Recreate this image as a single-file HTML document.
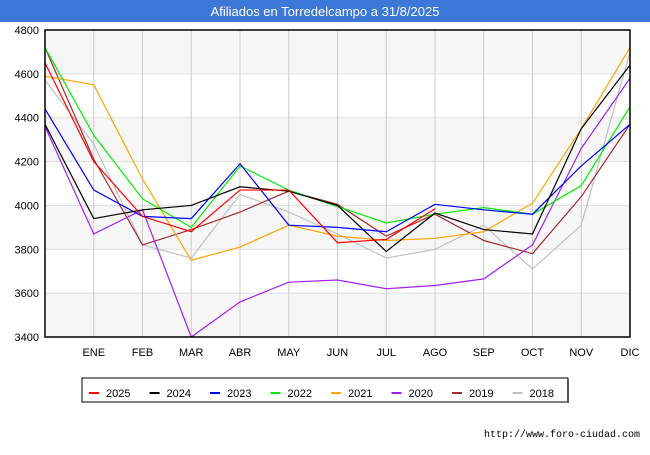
<!DOCTYPE html>
<html><head><meta charset="utf-8"><style>
body{margin:0;width:650px;height:450px;background:#fff;font-family:"Liberation Sans",sans-serif;overflow:hidden}
</style></head><body>
<svg width="650" height="450" xmlns="http://www.w3.org/2000/svg">
<rect x="0" y="0" width="650" height="22" fill="#3c78d8"/>
<text x="325" y="16" text-anchor="middle" font-size="13" fill="#fff" font-family="Liberation Sans, sans-serif">Afiliados en Torredelcampo a 31/8/2025</text>
<g id="grid"></g>
<g id="series"></g>
<rect x="45" y="30" width="585" height="307" fill="none" stroke="#000" stroke-width="1.5"/>
<g id="axes" font-size="11" font-family="Liberation Sans, sans-serif"></g>
<g id="legend"></g>
<text x="640" y="437" text-anchor="end" font-size="10" font-family="Liberation Mono, monospace">http://www.foro-ciudad.com</text>
</svg>
<script>
const months=["","ENE","FEB","MAR","ABR","MAY","JUN","JUL","AGO","SEP","OCT","NOV","DIC"];
const yTicks=[3400,3600,3800,4000,4200,4400,4600,4800];
const years=["2025","2024","2023","2022","2021","2020","2019","2018"];
const colors=["#ff0000","#000000","#0000ff","#00ee00","#ffa500","#a020f0","#a52a2a","#c0c0c0"];
const s2025=[4650,4200,3950,3880,4070,4070,3830,3845,3985];
const s2024=[4370,3940,3980,4000,4085,4065,4000,3790,3965,3890,3870,4350,4640];
const s2023=[4440,4070,3950,3940,4190,3910,3900,3880,4005,3980,3960,4180,4370];
const s2022=[4720,4320,4030,3900,4180,4070,3995,3920,3960,3990,3960,4090,4450];
const s2021=[4590,4550,4120,3750,3810,3910,3860,3840,3850,3880,4010,4350,4720];
const s2020=[4360,3870,3980,3400,3560,3650,3660,3620,3635,3665,3820,4260,4580];
const s2019=[4720,4210,3820,3890,3970,4065,4005,3860,3960,3840,3780,4040,4370];
const s2018=[4570,4280,3820,3760,4050,3970,3870,3760,3800,3910,3710,3910,4700];
const series=[s2025,s2024,s2023,s2022,s2021,s2020,s2019,s2018];
const NS="http://www.w3.org/2000/svg";
const X=i=>45+i*(585/12);
const Y=v=>30+(4800-v)*(307/1400);
function mk(t,a,p){const e=document.createElementNS(NS,t);for(const k in a)e.setAttribute(k,a[k]);p.appendChild(e);return e;}
const grid=document.getElementById('grid'),axes=document.getElementById('axes'),sg=document.getElementById('series'),lg=document.getElementById('legend');
for(let i=0;i<yTicks.length-1;i++){
 if(i%2==0){const r=mk('rect',{x:45,y:Y(yTicks[i+1]),width:585,height:Y(yTicks[i])-Y(yTicks[i+1]),fill:'#f7f7f7'},grid);
 
 }
}
yTicks.forEach(v=>{
 const l=mk('line',{x1:45,x2:630,y1:Y(v),y2:Y(v),stroke:'#dddddd'},grid);
 
 
 const t=mk('text',{x:39,y:Y(v)+4,'text-anchor':'end'},axes);t.textContent=v;
 
 
});
months.forEach((m,i)=>{
 if(i>0){const l=mk('line',{x1:X(i),x2:X(i),y1:30,y2:337,stroke:'#cccccc'},grid);
 
 }
 const t=mk('text',{x:X(i),y:356,'text-anchor':'middle'},axes);t.textContent=m;
 
 
});
for(let k=series.length-1;k>=0;k--){
 const p=mk('polyline',{points:series[k].map((v,i)=>X(i)+','+Y(v)).join(' '),fill:'none',stroke:colors[k],'stroke-width':1.2},sg);
 
 
}
const box=mk('rect',{x:82,y:378,width:486,height:24,fill:'#fff',stroke:'#000'},lg);


mk('line',{x1:568,y1:380,x2:568,y2:403,stroke:'#555','stroke-width':2},lg);
years.forEach((y,k)=>{
 const x0=89+k*60.5;
 const g=mk('g',{},lg);
 
 
 mk('line',{x1:x0,x2:x0+10,y1:393,y2:393,stroke:colors[k],'stroke-width':2},g);
 const t=mk('text',{x:x0+17,y:397,'font-size':11,'font-family':'Liberation Sans, sans-serif'},g);t.textContent=y;
});
</script>
</body></html>
